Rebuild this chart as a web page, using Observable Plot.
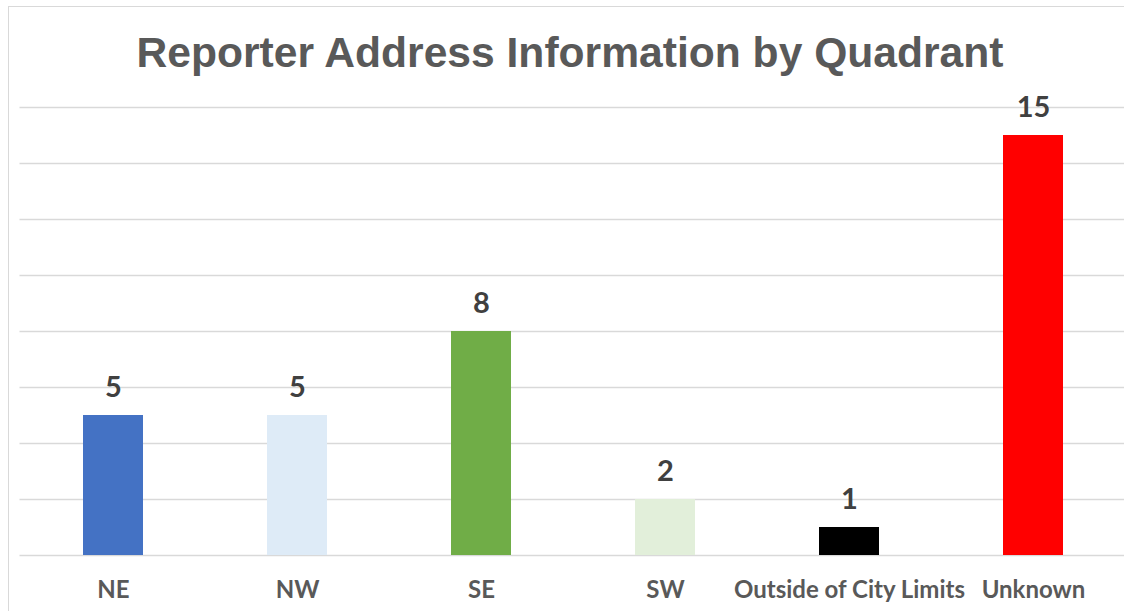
<!DOCTYPE html>
<html>
<head>
<meta charset="utf-8">
<script src="https://cdn.jsdelivr.net/npm/d3@7"></script>
<script src="https://cdn.jsdelivr.net/npm/@observablehq/plot@0.6"></script>
<style>
  html, body { margin: 0; padding: 0; background: #fff; }
  body { width: 1124px; height: 611px; overflow: hidden; position: relative; }
  #frame { position: absolute; left: 8px; top: 6px; width: 1140px; height: 700px; border: 1.5px solid #d9d9d9; box-sizing: border-box; }
  #title { position: absolute; left: 0; top: 31px; width: 1140px; text-align: center; font: bold 42.6px "Liberation Sans", Arial, sans-serif; line-height: 1; color: #595959; white-space: nowrap; }
  #chart { position: absolute; left: 0; top: 0; width: 1140px; }
  #chart svg { max-width: none !important; }
</style>
</head>
<body>
<div id="frame"></div>
<div id="title">Reporter Address Information by Quadrant</div>
<div id="chart"></div>
<script>
const categories = ["NE", "NW", "SE", "SW", "Outside of City Limits", "Unknown"];
const values = [5, 5, 8, 2, 1, 15];
const colors = ["#4472C4", "#DEEBF7", "#70AD47", "#E2EFDA", "#000000", "#FF0000"];
const gridTicks = [0, 2, 4, 6, 8, 10, 12, 14, 16];

const data = categories.map((c, i) => ({ category: c, value: values[i], color: colors[i] }));

const chart = Plot.plot({
  width: 1140,
  height: 611,
  marginLeft: 19.5,
  marginRight: 13,
  marginTop: 107,
  marginBottom: 56,
  style: { background: "transparent", fontFamily: "Lato, sans-serif", maxWidth: "none" },
  x: { domain: categories, paddingInner: 0.676, paddingOuter: 0.338, label: null },
  y: { domain: [0, 16], axis: null },
  marks: [
    Plot.ruleY(gridTicks, { stroke: "#d9d9d9", strokeWidth: 1.5 }),
    Plot.barY(data, { x: "category", y: "value", fill: "color" }),
    Plot.text(data, { x: "category", y: "value", text: d => String(d.value), dy: -19, lineAnchor: "bottom", fontSize: 29, fontWeight: "bold", fill: "#404040" }),
    Plot.axisX({ tickSize: 0, tickPadding: 25, fontSize: 24, fontWeight: "bold", fill: "#595959", label: null })
  ]
});
document.getElementById("chart").appendChild(chart);
</script>
</body>
</html>
